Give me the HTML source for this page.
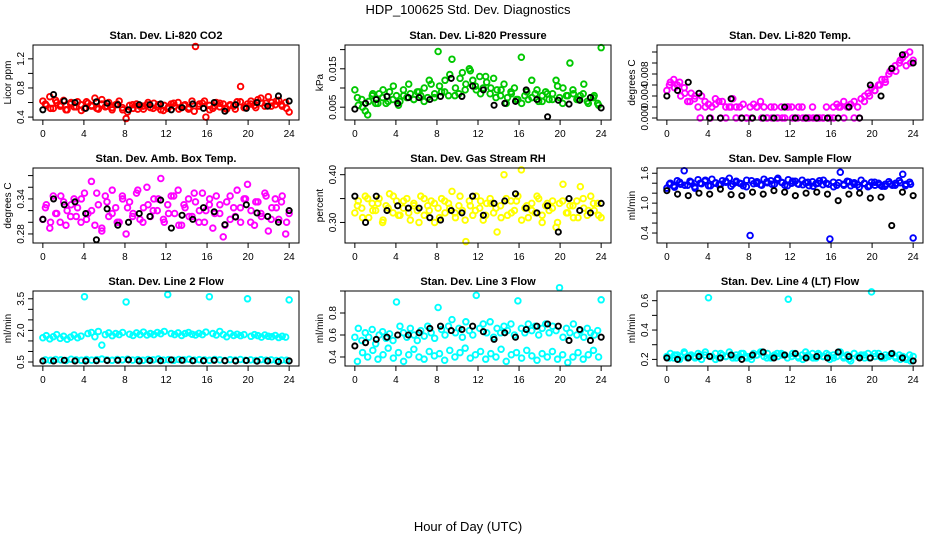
<!DOCTYPE html>
<html><head><meta charset="utf-8"><style>
body{margin:0;background:#fff;}
svg{display:block;font-family:"Liberation Sans",Arial,sans-serif;}
</style></head><body>
<svg id="chart" width="936" height="540" viewBox="0 0 936 540">
<text x="468" y="14" text-anchor="middle" font-size="13">HDP_100625  Std. Dev. Diagnostics</text>
<text x="468" y="531" text-anchor="middle" font-size="13">Hour of Day (UTC)</text>
</svg>
<script>
// ---- data: colored stream A (72 pts), colored stream B (48 pts), black series (24 pts)
const co2A=[0.62,0.56,0.68,0.52,0.60,0.55,0.63,0.50,0.58,0.54,0.61,0.57,0.52,0.59,0.55,0.66,0.51,0.58,0.54,0.60,0.53,0.57,0.62,0.50,0.38,0.56,0.52,0.58,0.55,0.51,0.57,0.53,0.59,0.54,0.50,0.56,0.52,0.58,0.55,0.60,0.53,0.57,0.51,0.62,1.37,0.55,0.59,0.40,0.56,0.52,0.60,0.54,0.58,0.51,0.57,0.55,0.61,0.82,0.53,0.58,0.62,0.56,0.64,0.59,0.55,0.68,0.60,0.57,0.63,0.55,0.60,0.47];
const co2B=[0.58,0.52,0.63,0.57,0.50,0.60,0.54,0.49,0.61,0.56,0.52,0.64,0.55,0.50,0.58,0.53,0.47,0.57,0.51,0.55,0.60,0.52,0.57,0.49,0.54,0.59,0.51,0.56,0.53,0.48,0.58,0.62,0.50,0.55,0.59,0.52,0.56,0.51,0.61,0.54,0.58,0.53,0.66,0.59,0.55,0.62,0.57,0.52];
const co2K=[0.50,0.71,0.62,0.60,0.52,0.61,0.59,0.57,0.50,0.57,0.57,0.58,0.50,0.53,0.58,0.52,0.60,0.48,0.57,0.52,0.60,0.55,0.69,0.62];
const presA=[0.0095,0.0055,0.0070,0.0040,0.0065,0.0080,0.0060,0.0085,0.0075,0.0060,0.0090,0.0070,0.0080,0.0065,0.0095,0.0075,0.0085,0.0070,0.0090,0.0080,0.0100,0.0075,0.0110,0.0085,0.0195,0.0090,0.0120,0.0080,0.0175,0.0100,0.0085,0.0140,0.0110,0.0150,0.0120,0.0095,0.0130,0.0100,0.0115,0.0085,0.0125,0.0095,0.0080,0.0110,0.0075,0.0090,0.0100,0.0070,0.0180,0.0080,0.0070,0.0120,0.0085,0.0065,0.0080,0.0090,0.0070,0.0085,0.0120,0.0075,0.0100,0.0080,0.0165,0.0085,0.0070,0.0080,0.0110,0.0065,0.0075,0.0080,0.0060,0.0205];
const presB=[0.0075,0.0050,0.0030,0.0085,0.0060,0.0095,0.0065,0.0105,0.0055,0.0080,0.0110,0.0070,0.0090,0.0065,0.0120,0.0075,0.0105,0.0090,0.0135,0.0080,0.0125,0.0095,0.0145,0.0105,0.0085,0.0130,0.0100,0.0075,0.0095,0.0060,0.0085,0.0070,0.0060,0.0090,0.0075,0.0095,0.0065,0.0085,0.0070,0.0105,0.0060,0.0080,0.0095,0.0070,0.0085,0.0060,0.0075,0.0055];
const presK=[0.0045,0.0060,0.0070,0.0078,0.0060,0.0075,0.0075,0.0070,0.0078,0.0125,0.0078,0.0105,0.0095,0.0055,0.0060,0.0065,0.0095,0.0070,0.0025,0.0068,0.0058,0.0068,0.0075,0.0048];
const tempA=[0.0050,0.0065,0.0070,0.0060,0.0040,0.0055,0.0030,0.0045,0.0035,0.0020,0.0040,0.0030,0.0025,0.0020,0.0035,0.0030,0.0030,0.0020,0.0020,0.0035,0.0020,0.0020,0.0025,0.0000,0.0020,0.0025,0.0020,0.0030,0.0020,0.0000,0.0020,0.0020,0.0000,0.0020,0.0000,0.0020,0.0020,0.0000,0.0020,0.0020,0.0000,0.0000,0.0020,0.0000,0.0000,0.0000,0.0020,0.0000,0.0020,0.0025,0.0020,0.0030,0.0020,0.0025,0.0030,0.0020,0.0035,0.0040,0.0045,0.0055,0.0050,0.0060,0.0070,0.0065,0.0080,0.0090,0.0085,0.0100,0.0110,0.0095,0.0120,0.0105];
const tempB=[0.0060,0.0055,0.0065,0.0045,0.0030,0.0040,0.0000,0.0020,0.0000,0.0025,0.0000,0.0000,0.0020,0.0000,0.0000,0.0000,0.0000,0.0020,0.0000,0.0000,0.0000,0.0000,0.0000,0.0020,0.0000,0.0000,0.0000,0.0000,0.0000,0.0000,0.0000,0.0000,0.0000,0.0020,0.0000,0.0020,0.0000,0.0000,0.0030,0.0040,0.0050,0.0060,0.0070,0.0085,0.0095,0.0105,0.0115,0.0100];
const tempK=[0.0040,0.0050,0.0065,0.0045,0.0000,0.0000,0.0035,0.0000,0.0000,0.0000,0.0000,0.0020,0.0000,0.0000,0.0000,0.0000,0.0000,0.0020,0.0000,0.0060,0.0040,0.0090,0.0115,0.0100];
const ambA=[0.305,0.330,0.290,0.345,0.315,0.300,0.335,0.320,0.310,0.340,0.325,0.300,0.350,0.315,0.370,0.295,0.330,0.285,0.345,0.310,0.355,0.325,0.300,0.340,0.280,0.335,0.315,0.350,0.305,0.325,0.360,0.310,0.340,0.320,0.375,0.300,0.330,0.345,0.315,0.355,0.295,0.325,0.340,0.310,0.335,0.300,0.350,0.320,0.330,0.290,0.345,0.315,0.275,0.335,0.305,0.325,0.355,0.300,0.340,0.365,0.320,0.295,0.335,0.310,0.350,0.285,0.325,0.340,0.305,0.345,0.280,0.315];
const ambB=[0.325,0.300,0.315,0.345,0.295,0.330,0.310,0.340,0.305,0.320,0.350,0.290,0.335,0.315,0.300,0.345,0.325,0.310,0.355,0.300,0.330,0.320,0.340,0.305,0.315,0.345,0.295,0.330,0.310,0.350,0.320,0.300,0.340,0.315,0.330,0.295,0.345,0.310,0.325,0.340,0.300,0.335,0.315,0.345,0.305,0.325,0.335,0.300];
const ambK=[0.305,0.340,0.330,0.335,0.315,0.270,0.323,0.295,0.300,0.315,0.310,0.338,0.290,0.312,0.305,0.325,0.318,0.296,0.309,0.330,0.316,0.310,0.300,0.320];
const rhA=[0.320,0.345,0.330,0.355,0.310,0.340,0.325,0.350,0.300,0.335,0.360,0.320,0.345,0.315,0.330,0.350,0.305,0.340,0.325,0.355,0.315,0.335,0.345,0.300,0.330,0.350,0.320,0.340,0.365,0.310,0.335,0.325,0.260,0.345,0.315,0.355,0.330,0.305,0.340,0.350,0.320,0.280,0.335,0.400,0.315,0.345,0.325,0.355,0.410,0.330,0.310,0.340,0.320,0.350,0.300,0.335,0.325,0.345,0.290,0.340,0.380,0.320,0.335,0.310,0.345,0.375,0.330,0.315,0.355,0.325,0.340,0.310];
const rhB=[0.335,0.310,0.350,0.325,0.340,0.305,0.330,0.355,0.315,0.345,0.320,0.335,0.300,0.350,0.325,0.340,0.310,0.345,0.330,0.320,0.355,0.305,0.335,0.325,0.345,0.315,0.340,0.330,0.310,0.350,0.320,0.345,0.305,0.335,0.325,0.355,0.315,0.340,0.330,0.300,0.345,0.320,0.335,0.310,0.350,0.325,0.340,0.315];
const rhK=[0.355,0.300,0.355,0.325,0.335,0.330,0.330,0.310,0.305,0.325,0.320,0.355,0.315,0.340,0.345,0.360,0.330,0.320,0.335,0.280,0.350,0.325,0.320,0.340];
const flowA=[1.30,1.40,1.35,1.45,1.38,1.65,1.36,1.42,1.33,1.47,1.39,1.44,1.35,1.48,1.40,1.37,1.45,1.42,1.50,1.38,1.44,1.40,1.35,1.46,0.35,1.39,1.43,1.37,1.48,1.41,1.45,1.38,1.50,1.42,1.36,1.47,1.40,1.44,1.38,1.46,1.41,1.35,1.43,1.39,1.45,1.37,1.40,0.28,1.42,1.36,1.62,1.38,1.44,1.35,1.41,1.37,1.46,1.39,1.33,1.42,1.36,1.40,1.34,1.38,1.43,1.36,1.40,1.45,1.58,1.38,1.42,0.30];
const flowB=[1.38,1.32,1.42,1.36,1.44,1.30,1.40,1.46,1.35,1.41,1.38,1.44,1.34,1.42,1.39,1.33,1.45,1.40,1.36,1.43,1.38,1.47,1.41,1.35,1.44,1.39,1.37,1.42,1.34,1.40,1.46,1.38,1.33,1.41,1.36,1.43,1.38,1.32,1.40,1.35,1.42,1.37,1.34,1.39,1.36,1.41,1.35,1.38];
const flowK=[1.25,1.18,1.15,1.20,1.18,1.28,1.17,1.15,1.22,1.18,1.25,1.22,1.15,1.20,1.22,1.18,1.05,1.18,1.20,1.10,1.12,0.55,1.22,1.15];
const l2A=[1.65,1.75,1.60,1.70,1.80,1.62,1.72,1.58,1.68,1.78,1.65,1.73,3.60,1.85,1.90,1.70,1.95,1.30,1.80,1.88,1.75,1.85,1.80,1.90,3.35,1.82,1.76,1.88,1.80,1.92,1.78,1.85,1.80,1.90,1.84,1.95,3.70,1.85,1.80,1.88,1.76,1.85,1.90,1.82,1.78,1.86,1.80,1.92,3.60,1.85,1.78,1.95,1.80,1.70,1.85,1.76,1.82,1.75,1.80,3.50,1.72,1.80,1.75,1.68,1.78,1.72,1.70,1.76,1.66,1.72,1.68,3.45];
const l2B=[0.60,0.58,0.62,0.60,0.57,0.63,0.60,0.58,0.62,0.59,0.61,0.64,0.60,0.58,0.62,0.60,0.63,0.59,0.61,0.58,0.62,0.60,0.64,0.59,0.61,0.58,0.62,0.60,0.63,0.59,0.61,0.60,0.58,0.62,0.60,0.57,0.61,0.59,0.62,0.58,0.60,0.57,0.61,0.58,0.60,0.57,0.59,0.58];
const l2K=[0.55,0.55,0.58,0.55,0.55,0.56,0.57,0.58,0.60,0.55,0.57,0.56,0.60,0.58,0.56,0.56,0.58,0.56,0.55,0.57,0.54,0.55,0.52,0.55];
const l3A=[0.58,0.66,0.55,0.62,0.58,0.65,0.52,0.60,0.63,0.57,0.61,0.55,0.90,0.68,0.62,0.58,0.66,0.60,0.55,0.64,0.59,0.68,0.62,0.57,0.85,0.65,0.60,0.68,0.74,0.62,0.66,0.58,0.72,0.64,0.60,0.96,0.66,0.70,0.62,0.72,0.58,0.66,0.62,0.68,0.64,0.70,0.60,0.91,0.66,0.62,0.70,0.64,0.68,0.60,0.66,0.70,0.62,0.68,0.64,1.03,0.58,0.66,0.62,0.70,0.60,0.64,0.58,0.66,0.62,0.60,0.64,0.92];
const l3B=[0.36,0.44,0.40,0.46,0.38,0.42,0.48,0.39,0.44,0.36,0.42,0.47,0.40,0.38,0.45,0.41,0.43,0.37,0.46,0.40,0.44,0.48,0.39,0.42,0.45,0.38,0.43,0.40,0.47,0.36,0.42,0.44,0.39,0.46,0.41,0.37,0.43,0.40,0.45,0.38,0.42,0.35,0.40,0.44,0.38,0.42,0.46,0.40];
const l3K=[0.50,0.53,0.56,0.58,0.60,0.60,0.62,0.66,0.68,0.64,0.65,0.68,0.63,0.56,0.62,0.58,0.65,0.68,0.70,0.68,0.55,0.65,0.55,0.58];
const l4A=[0.22,0.24,0.21,0.23,0.22,0.25,0.21,0.23,0.22,0.24,0.20,0.23,0.62,0.22,0.24,0.21,0.23,0.22,0.25,0.21,0.23,0.22,0.24,0.21,0.22,0.24,0.23,0.25,0.22,0.24,0.21,0.23,0.22,0.24,0.23,0.61,0.22,0.24,0.21,0.23,0.25,0.22,0.24,0.21,0.23,0.22,0.24,0.20,0.23,0.22,0.25,0.21,0.23,0.19,0.24,0.22,0.23,0.21,0.24,0.66,0.22,0.24,0.21,0.23,0.22,0.24,0.21,0.23,0.22,0.20,0.23,0.22];
const l4B=[0.21,0.23,0.20,0.24,0.22,0.21,0.23,0.25,0.22,0.20,0.24,0.22,0.23,0.21,0.24,0.22,0.20,0.23,0.25,0.21,0.22,0.24,0.23,0.21,0.24,0.22,0.20,0.23,0.21,0.24,0.22,0.23,0.21,0.25,0.22,0.20,0.24,0.22,0.23,0.21,0.24,0.22,0.21,0.23,0.22,0.20,0.21,0.19];
const l4K=[0.21,0.20,0.21,0.22,0.22,0.21,0.23,0.20,0.23,0.25,0.21,0.23,0.24,0.21,0.22,0.21,0.25,0.22,0.21,0.21,0.22,0.24,0.21,0.19];
const xTicks=[0,4,8,12,16,20,24];
const titles=["Stan. Dev. Li-820 CO2","Stan. Dev. Li-820 Pressure","Stan. Dev. Li-820 Temp.","Stan. Dev. Amb. Box Temp.","Stan. Dev. Gas Stream RH","Stan. Dev. Sample Flow","Stan. Dev. Line 2 Flow","Stan. Dev. Line 3 Flow","Stan. Dev. Line 4 (LT) Flow"];
const yTitles=["Licor ppm","kPa","degrees C","degrees C","percent","ml/min","ml/min","ml/min","ml/min"];
const yDomains=[[0.36,1.39],[0.00166,0.0212],[-0.00036,0.01327],[0.2645,0.393],[0.257,0.414],[0.2,1.705],[0.31,3.87],[0.318,1.0],[0.155,0.666]];
const yTickVals=[[0.4,0.6,0.8,1.0,1.2],[0.005,0.010,0.015,0.020],[0,0.002,0.004,0.006,0.008,0.010,0.012],[0.28,0.30,0.32,0.34,0.36,0.38],[0.30,0.35,0.40],[0.4,0.6,0.8,1.0,1.2,1.4,1.6],[0.5,1.0,1.5,2.0,2.5,3.0,3.5],[0.4,0.6,0.8,1.0],[0.2,0.3,0.4,0.5,0.6]];
const yTickLabels=[["0.4","","0.8","","1.2"],["0.005","","0.015",""],["0.000","","0.004","","0.008","",""],["0.28","","","0.34","",""],["0.30","","0.40"],["0.4","","","1.0","","","1.6"],["0.5","","","2.0","","","3.5"],["0.4","0.6","0.8",""],["0.2","","0.4","","0.6"]];
const seriesA=[co2A,presA,tempA,ambA,rhA,flowA,l2A,l3A,l4A];
const seriesB=[co2B,presB,tempB,ambB,rhB,flowB,l2B,l3B,l4B];
const seriesK=[co2K,presK,tempK,ambK,rhK,flowK,l2K,l3K,l4K];
const colors=["#ff0000","#00c800","#ff00ff","#ff00ff","#ffff00","#0000ff","#00ffff","#00ffff","#00ffff"];

const svg=document.getElementById('chart');
const NS='http://www.w3.org/2000/svg';
function mk(tag,attrs,parent){const e=document.createElementNS(NS,tag);for(const k in attrs)e.setAttribute(k,attrs[k]);parent.appendChild(e);return e;}
const colL=[33,345,657], rowT=[45,168,291], W=266, H=75;

for(let p=0;p<9;p++){
  const L=colL[p%3], T=rowT[Math.floor(p/3)];
  const g=mk('g',{},svg);
  
  
  const xs=v=>L+W*(v+0.96)/25.92;
  const [y0,y1]=yDomains[p];
  const ys=v=>T+H-(v-y0)/(y1-y0)*H;
  const t=mk('text',{x:L+W/2,y:T-6,'text-anchor':'middle','font-size':'11','font-weight':'bold'},g);
  t.textContent=titles[p];
  
  
  const pts=mk('g',{fill:'none','stroke-width':'1.9'},g);
  
  
  const A=seriesA[p],B=seriesB[p],K=seriesK[p];
  A.forEach((v,i)=>{const c=mk('circle',{cx:xs(i*24/(A.length-1)),cy:ys(v),r:2.8,stroke:colors[p]},pts);
    
    });
  B.forEach((v,i)=>{const c=mk('circle',{cx:xs((i+0.5)*24/B.length),cy:ys(v),r:2.8,stroke:colors[p]},pts);
    
    });
  K.forEach((v,i)=>{const c=mk('circle',{cx:xs(i*24/(K.length-1)),cy:ys(v),r:2.6,stroke:'#000'},pts);
    
    });
  const box=mk('rect',{x:L,y:T,width:W,height:H,fill:'none',stroke:'#000','stroke-width':'1'},g);
  
  
  const xa=mk('g',{},g);
  
  
  mk('line',{x1:xs(0),x2:xs(24),y1:T+H,y2:T+H,stroke:'#000'},xa);
  xTicks.forEach(v=>{mk('line',{x1:xs(v),x2:xs(v),y1:T+H,y2:T+H+5,stroke:'#000'},xa);
    const tl=mk('text',{x:xs(v),y:T+H+17,'text-anchor':'middle','font-size':'10'},xa);tl.textContent=v;
    
    });
  const ya=mk('g',{},g);
  
  
  const tv=yTickVals[p];
  mk('line',{x1:L,x2:L,y1:ys(tv[0]),y2:ys(tv[tv.length-1]),stroke:'#000'},ya);
  tv.forEach((v,i)=>{const y=ys(v);mk('line',{x1:L-5,x2:L,y1:y,y2:y,stroke:'#000'},ya);
    const lab=yTickLabels[p][i];
    if(lab){const tl=mk('text',{x:L-9,y:y,'text-anchor':'middle','font-size':'10',transform:`rotate(-90 ${L-9} ${y})`},ya);tl.textContent=lab;
      
      }});
  const yt=mk('text',{x:L-22,y:T+H/2,'text-anchor':'middle','font-size':'10',transform:`rotate(-90 ${L-22} ${T+H/2})`},g);
  yt.textContent=yTitles[p];
  
  
}
</script>
</body></html>
